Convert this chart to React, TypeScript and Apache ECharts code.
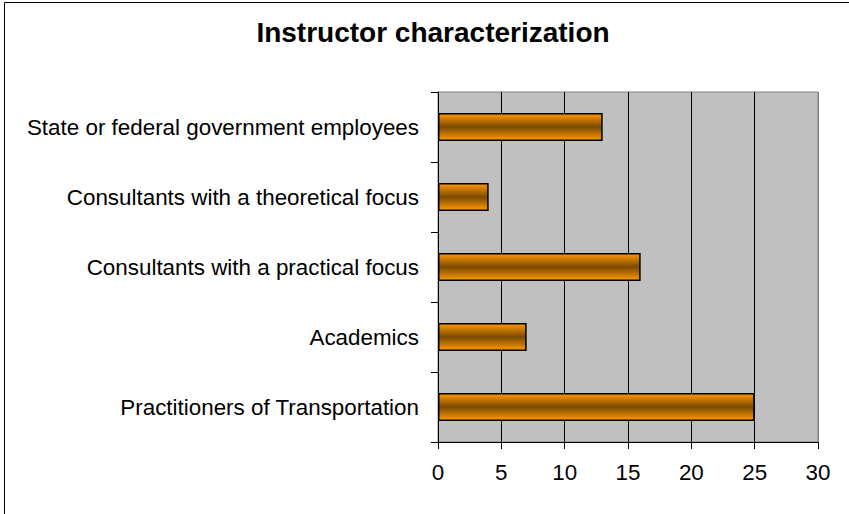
import React, { useEffect, useRef } from "react";
import * as echarts from "echarts";

const categories = [
  "Practitioners of Transportation",
  "Academics",
  "Consultants with a practical focus",
  "Consultants with a theoretical focus",
  "State or federal government employees",
];
const values = [25, 7, 16, 4, 13];
const titleText = "Instructor characterization";

export default function App() {
  const ref = useRef<HTMLDivElement>(null);
  useEffect(() => {
    document.body.style.margin = "0";
    const chart = echarts.init(ref.current!, null, { renderer: "svg" });
    chart.setOption({
      animation: false,
      backgroundColor: "#ffffff",
      title: {
        text: titleText,
        left: 428,
        top: 13,
        textAlign: "center",
        textStyle: {
          fontFamily: "Liberation Sans, Arial, sans-serif",
          fontSize: 28,
          fontWeight: "bold",
          color: "#000",
        },
      },
      graphic: [
        {
          type: "rect",
          shape: { x: 4.5, y: 2.5, width: 900, height: 600 },
          style: { fill: "none", stroke: "#000", lineWidth: 1 },
          silent: true,
        },
      ],
      grid: {
        left: 438,
        right: 31,
        top: 92,
        bottom: 72,
        show: true,
        backgroundColor: "#C0C0C0",
        borderColor: "#808080",
        borderWidth: 1,
      },
      xAxis: {
        type: "value",
        min: 0,
        max: 30,
        interval: 5,
        axisLine: { show: true, lineStyle: { color: "#000", width: 1 } },
        axisTick: { show: true, length: 7, lineStyle: { color: "#000" } },
        axisLabel: {
          margin: 19,
          fontFamily: "Liberation Sans, Arial, sans-serif",
          fontSize: 22.4,
          color: "#000",
        },
        splitLine: {
          show: true,
          lineStyle: {
            color: ["#000", "#000", "#000", "#000", "#000", "#000", "#808080"],
            width: 1,
          },
        },
      },
      yAxis: {
        type: "category",
        data: categories,
        axisLine: { show: true, lineStyle: { color: "#000", width: 1 } },
        axisTick: { show: true, length: 7, lineStyle: { color: "#000" } },
        axisLabel: {
          margin: 19,
          fontFamily: "Liberation Sans, Arial, sans-serif",
          fontSize: 22.4,
          color: "#000",
        },
        splitLine: { show: false },
      },
      series: [
        {
          type: "bar",
          data: values,
          barCategoryGap: "60%",
          itemStyle: {
            borderColor: "#000",
            borderWidth: 1.5,
            color: new echarts.graphic.LinearGradient(0, 0, 0, 1, [
              { offset: 0, color: "#FF9900" },
              { offset: 0.5, color: "#7A4A00" },
              { offset: 1, color: "#FF9900" },
            ]),
          },
        },
      ],
    });
    return () => chart.dispose();
  }, []);
  return <div ref={ref} style={{ width: 849, height: 514 }} />;
}
